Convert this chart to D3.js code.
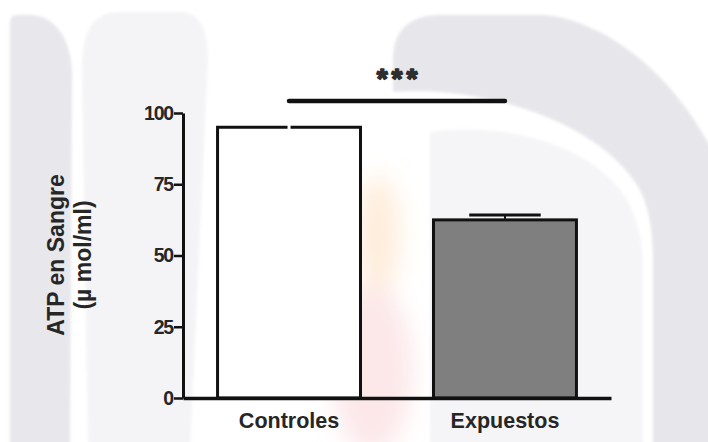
<!DOCTYPE html>
<html>
<head>
<meta charset="utf-8">
<script src="https://cdn.jsdelivr.net/npm/d3@7"></script>
<style>
  html, body { margin: 0; padding: 0; background: #ffffff; }
  svg { display: block; }
  text { font-family: "Liberation Sans", Arial, sans-serif; }
</style>
</head>
<body>
<svg id="chart" width="708" height="442"></svg>
<script>
// ATP en sangre: controles vs expuestos (media ± EEM)
const categories = ["Controles", "Expuestos"];
const means = [95, 62.5];
const sems = [0.5, 1.7];
const yTicks = [0, 25, 50, 75, 100];
const barFills = ["#ffffff", "#7f7f7f"];
const errorColors = ["#ffffff", "#111111"];
const significance = "***";
const yTitle = ["ATP en Sangre", "(µ mol/ml)"];

const svg = d3.select("#chart");
const W = 708, H = 442;

// ---- soft watermark background ----
const defs = svg.append("defs");
defs.append("filter").attr("id", "soft").attr("x", "-10%").attr("y", "-10%")
  .attr("width", "120%").attr("height", "120%")
  .append("feGaussianBlur").attr("stdDeviation", 1.8);
defs.append("filter").attr("id", "haze").attr("x", "-50%").attr("y", "-50%")
  .attr("width", "200%").attr("height", "200%")
  .append("feGaussianBlur").attr("stdDeviation", 12);

const bg = svg.append("g").attr("filter", "url(#soft)");
bg.append("rect").attr("width", W).attr("height", H).attr("fill", "#ffffff");
// left light panel
bg.append("path")
  .attr("d", "M88,450 L82,70 C82,35 90,12 120,12 L180,12 C200,12 208,30 208,60 L190,450 Z")
  .attr("fill", "#f4f4f7");
// left pillar
bg.append("path")
  .attr("d", "M10,450 L10,22 Q10,15 17,15 L30,15 C55,15 72,40 72,75 L70,450 Z")
  .attr("fill", "#e7e7ec");
// arch on the right
bg.append("path")
  .attr("d", "M393,92 L393,60 C393,30 410,15 440,15 L540,15 C580,15 660,50 712,150 L760,300 L760,450 L653,450 L653,270 C653,240 652,215 640,190 C600,120 480,85 393,92 Z")
  .attr("fill", "#e6e6eb");
// light interior under the arch
bg.append("path")
  .attr("d", "M430,450 L430,132 C500,122 590,142 625,197 C640,222 643,247 643,272 L643,450 Z")
  .attr("fill", "#f5f5f8");

// faint warm flame in the middle
const haze = svg.append("g").attr("filter", "url(#haze)");
haze.append("ellipse").attr("cx", 378).attr("cy", 235).attr("rx", 22).attr("ry", 60)
  .attr("fill", "#fde3c8").attr("opacity", 0.65);
haze.append("ellipse").attr("cx", 372).attr("cy", 370).attr("rx", 40).attr("ry", 85)
  .attr("fill", "#fbdadd").attr("opacity", 0.65);

// ---- chart ----
const y = d3.scaleLinear().domain([0, 100]).range([398, 113]);
const x = d3.scaleBand().domain(categories).range([183, 611])
  .paddingInner(0.338).paddingOuter(0.16);

const ink = "#111111";
const textColor = "#262626";

// bars
const bars = svg.append("g");
bars.selectAll("rect").data(categories).join("rect")
  .attr("x", d => x(d))
  .attr("y", (d, i) => y(means[i]))
  .attr("width", x.bandwidth())
  .attr("height", (d, i) => y(0) - y(means[i]))
  .attr("fill", (d, i) => barFills[i])
  .attr("stroke", ink)
  .attr("stroke-width", 3);

// error bars (upper only)
const err = svg.append("g");
categories.forEach((c, i) => {
  const cx = x(c) + x.bandwidth() / 2;
  const top = y(means[i] + sems[i]);
  const capHalf = x.bandwidth() / 4;
  if (i === 0) {
    err.append("line")
      .attr("x1", cx).attr("x2", cx)
      .attr("y1", y(means[i]) - 2.5).attr("y2", y(means[i]) + 2)
      .attr("stroke", errorColors[i]).attr("stroke-width", 3);
  } else {
    err.append("line")
      .attr("x1", cx).attr("x2", cx)
      .attr("y1", top).attr("y2", y(means[i]))
      .attr("stroke", errorColors[i]).attr("stroke-width", 2);
    err.append("line")
      .attr("x1", cx - capHalf).attr("x2", cx + capHalf)
      .attr("y1", top).attr("y2", top)
      .attr("stroke", errorColors[i]).attr("stroke-width", 3);
  }
});

// y axis
const yAxis = svg.append("g").attr("transform", "translate(183,0)")
  .call(d3.axisLeft(y).tickValues(yTicks).tickSize(9).tickSizeOuter(0).tickPadding(1));
yAxis.select(".domain").attr("stroke", ink).attr("stroke-width", 3);
yAxis.selectAll(".tick line").attr("stroke", ink).attr("stroke-width", 2.5);
yAxis.selectAll(".tick text")
  .attr("fill", textColor)
  .style("font-size", "19.5px")
  .style("font-weight", "bold")
  .style("letter-spacing", "-1.2px");

// x axis
const xAxis = svg.append("g").attr("transform", `translate(0,${y(0)})`)
  .call(d3.axisBottom(x).tickSize(0).tickSizeOuter(0).tickPadding(15));
xAxis.select(".domain").attr("stroke", ink).attr("stroke-width", 3.5);
xAxis.selectAll(".tick text")
  .attr("fill", textColor)
  .style("font-size", "21.5px")
  .style("font-weight", "bold");

// y title
const yt = svg.append("text")
  .attr("transform", "translate(64,255) rotate(-90)")
  .attr("text-anchor", "middle")
  .attr("fill", textColor)
  .style("font-size", "23px")
  .style("font-weight", "bold");
yt.append("tspan").attr("x", 0).attr("dy", 0).text(yTitle[0]);
yt.append("tspan").attr("x", 0).attr("dy", 27).text(yTitle[1]);

// significance bracket
const sx1 = x(categories[0]) + x.bandwidth() / 2;
const sx2 = x(categories[1]) + x.bandwidth() / 2;
svg.append("line")
  .attr("x1", sx1).attr("x2", sx2)
  .attr("y1", 101).attr("y2", 101)
  .attr("stroke", ink).attr("stroke-width", 4.5)
  .attr("stroke-linecap", "round");
svg.append("text")
  .attr("x", (sx1 + sx2) / 2 + 2).attr("y", 88)
  .attr("text-anchor", "middle")
  .attr("fill", "#2e2e2e")
  .attr("stroke", "#2e2e2e")
  .attr("stroke-width", 1.6)
  .attr("stroke-linejoin", "round")
  .style("font-size", "28px")
  .style("font-weight", "bold")
  .style("letter-spacing", "4px")
  .text(significance);
</script>
</body>
</html>
